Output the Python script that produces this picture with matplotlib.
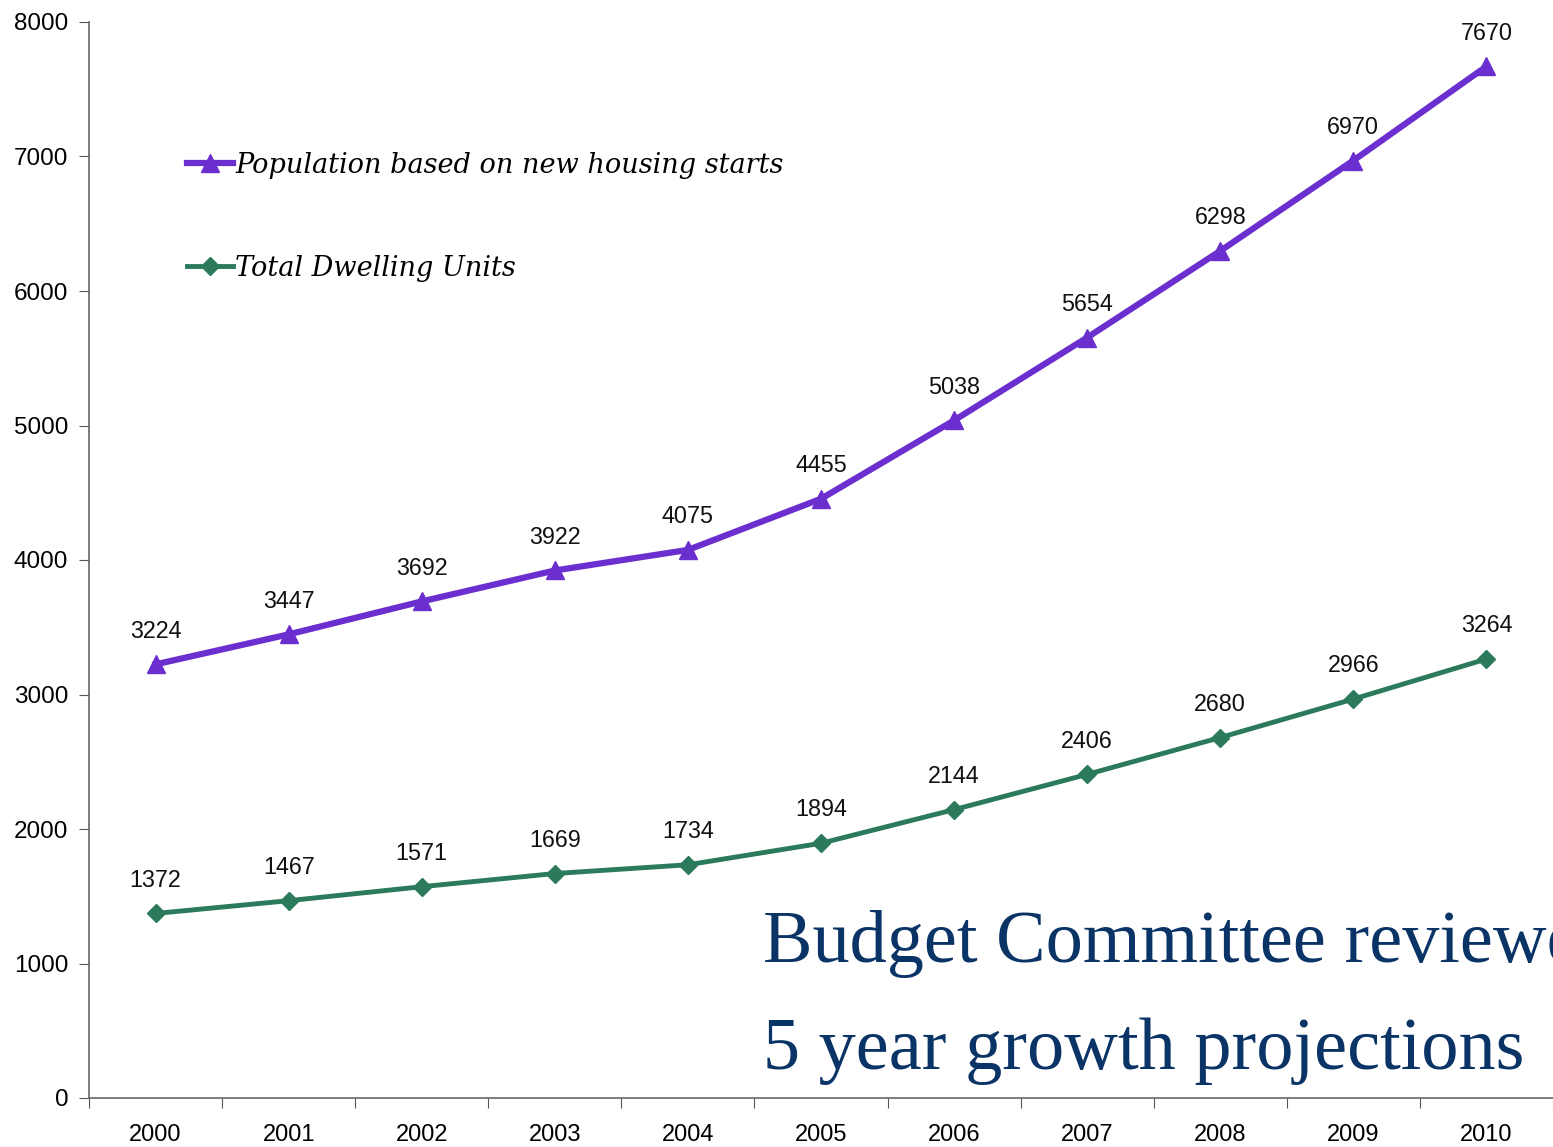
import matplotlib
matplotlib.use("Agg")
import matplotlib.pyplot as plt

years = ["2000", "2001", "2002", "2003", "2004", "2005", "2006", "2007", "2008", "2009", "2010"]
population = [3224, 3447, 3692, 3922, 4075, 4455, 5038, 5654, 6298, 6970, 7670]
dwellings = [1372, 1467, 1571, 1669, 1734, 1894, 2144, 2406, 2680, 2966, 3264]
y_ticks = [0, 1000, 2000, 3000, 4000, 5000, 6000, 7000, 8000]

purple = "#6B2ECF"
green = "#2B7A5C"
navy = "#0A3366"

fig = plt.figure(figsize=(15.53, 11.47), dpi=100)
ax = fig.add_axes([89/1553, 49/1147, 1 - 89/1553, (1098 - 22)/1147])

x = list(range(len(years)))
l1, = ax.plot(x, population, color=purple, lw=4.5, marker="^", ms=13,
              label="Population based on new housing starts")
l2, = ax.plot(x, dwellings, color=green, lw=3.5, marker="D", ms=9,
              label="Total Dwelling Units")

lab_font = dict(family="Liberation Sans", fontsize=16.8, color="#111111")
for xi, v in zip(x, population):
    ax.annotate(f"{v}", (xi, v), xytext=(0, 24), textcoords="offset points",
                ha="center", va="center", **lab_font)
for xi, v in zip(x, dwellings):
    ax.annotate(f"{v}", (xi, v), xytext=(0, 24), textcoords="offset points",
                ha="center", va="center", **lab_font)

ax.set_xlim(-0.5, len(years) - 0.5)
ax.set_ylim(0, 8000)
ax.set_yticks(y_ticks)
ax.set_yticklabels([str(t) for t in y_ticks], family="Liberation Sans", fontsize=17.5)
ax.set_xticks([i - 0.5 for i in range(len(years) + 1)], minor=False)
ax.set_xticklabels([])
ax.set_xticks(x, minor=True)
ax.set_xticklabels(years, minor=True, family="Liberation Sans", fontsize=17)
ax.tick_params(axis="x", which="minor", length=0, pad=19)
ax.tick_params(axis="x", which="major", length=7, direction="out", color="#555555")
ax.tick_params(axis="y", length=7, direction="out", color="#555555", pad=8)
for s in ["top", "right"]:
    ax.spines[s].set_visible(False)
for s in ["left", "bottom"]:
    ax.spines[s].set_color("#666666")
    ax.spines[s].set_linewidth(1.2)

leg = ax.legend(handles=[l1, l2], loc="upper left", bbox_to_anchor=(0.05, 0.902),
                frameon=False, labelspacing=2.8, handlelength=1.7, handletextpad=0.1,
                prop=dict(family="DejaVu Serif", style="italic", size=19.5))

fig.text(763/1553, 1 - 962/1147, "Budget Committee reviewed", family="Liberation Serif",
         fontsize=53.5, color=navy, ha="left", va="baseline")
fig.text(763/1553, 1 - 1069/1147, "5 year growth projections", family="Liberation Serif",
         fontsize=53.5, color=navy, ha="left", va="baseline")

fig.savefig("out.png", dpi=100)
